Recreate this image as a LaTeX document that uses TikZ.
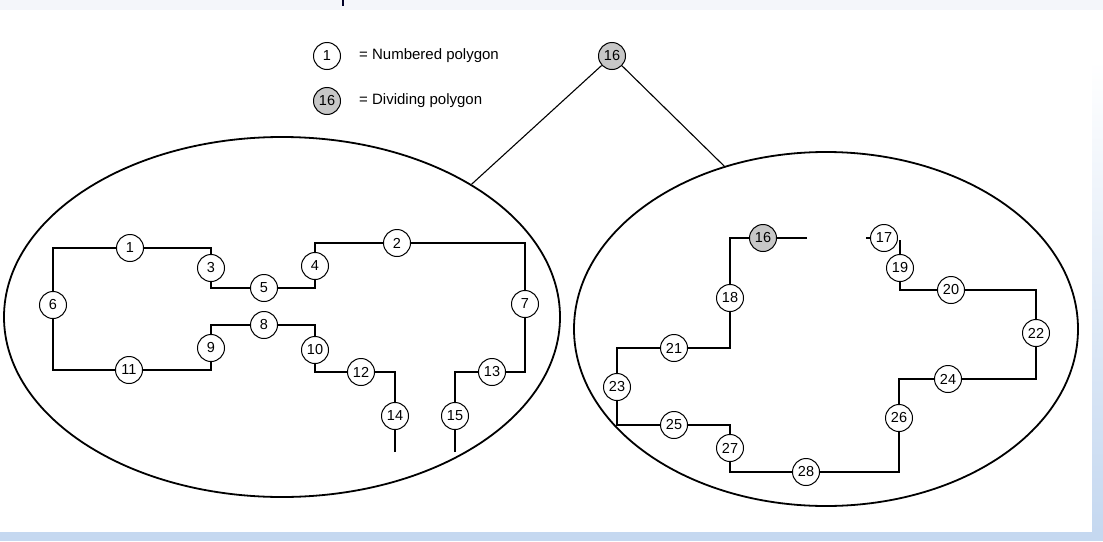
\documentclass[tikz,border=0pt]{standalone}
\usepackage{fontspec}
\setmainfont{Liberation Sans}
\usetikzlibrary{positioning, shapes.geometric}

\definecolor{slideblue}{HTML}{C5D8F0}
\definecolor{slidetop}{HTML}{F4F6FA}

\begin{document}
\begin{tikzpicture}[
        x=1pt, y=-1pt,
        polygon/.style={circle, draw, fill=white, line width=1pt, minimum size=27pt, inner sep=0pt, font=\fontsize{14.5}{14.5}\selectfont},
        dividing/.style={polygon, fill=black!22},
        boundary/.style={line width=2pt},
        oval/.style={ellipse, draw, line width=1.8pt, inner sep=0pt},
        tree/.style={line width=1.1pt},
        legend/.style={inner sep=0pt, font=\fontsize{15}{15}\selectfont},
    ]
    \useasboundingbox (0,0) rectangle (1103,541);

        % Slide background
        \fill[white] (0,0) rectangle (1103,541);
        \fill[slidetop] (0,0) rectangle (1103,10);
        \fill[slideblue] (0,532) rectangle (1103,541);
        \shade[top color=white, bottom color=slideblue] (1092,60) rectangle (1103,532);
        \fill[black!85!blue] (342,0) rectangle (344,6);

        % Draw the two regions
        \node[oval, minimum width=556pt, minimum height=360pt] (left-oval) at (282,317) {};
        \node[oval, minimum width=504pt, minimum height=354pt] (right-oval) at (826,329) {};

        % Draw the dividing polygon on top and the split
        \node[dividing] (root) at (612,56) {16};
        \draw[tree] (root) -- (left-oval.35);
        \draw[tree] (root) -- (right-oval.122);

        % Legend
        \node[polygon] (leg-1) at (327,56) {1};
        \node[dividing] (leg-16) at (327,101) {16};
        \node[legend, right=18pt of leg-1] {= Numbered polygon};
        \node[legend, right=18pt of leg-16] {= Dividing polygon};

        % Free ends of the boundaries
        \coordinate (end-14) at (395,452);
        \coordinate (end-15) at (455,452);
        \coordinate (end-16) at (807,238);
        \coordinate (stub-17) at (866,238);
        \coordinate (top-19) at (900,240);

        % Draw the numbered polygons
        \foreach \name / \x / \y in {1/130/248, 2/397/243, 3/211/268, 4/315/266,
                5/264/288, 6/53/305, 7/525/304, 8/264/325, 9/211/348, 10/315/350,
                11/129/370, 12/361/372, 13/492/372, 14/395/416, 15/455/416,
                17/884/238, 18/730/298, 19/900/268, 20/951/290, 21/674/348,
                22/1036/333, 23/617/387, 24/948/379, 25/674/425, 26/899/418,
                27/730/448, 28/806/472}
            \node[polygon] (P-\name) at (\x,\y) {\name};
        \node[dividing] (P-16) at (763,238) {16};

        % Connect the polygons along the boundaries
        \draw[boundary] (P-6) |- (P-1) -| (P-3) |- (P-5) -| (P-4) |- (P-2)
            -| (P-7) |- (P-13) -| (P-15) -- (end-15);
        \draw[boundary] (end-14) -- (P-14) |- (P-12) -| (P-10) |- (P-8)
            -| (P-9) |- (P-11) -| (P-6);
        \draw[boundary] (end-16) -- (P-16) -| (P-18) |- (P-21) -| (P-23)
            |- (P-25) -| (P-27) |- (P-28) -| (P-26) |- (P-24) -| (P-22)
            |- (P-20) -| (P-19) -- (top-19);
        \draw[boundary] (stub-17) -- (P-17);
    \end{tikzpicture}
\end{document}
